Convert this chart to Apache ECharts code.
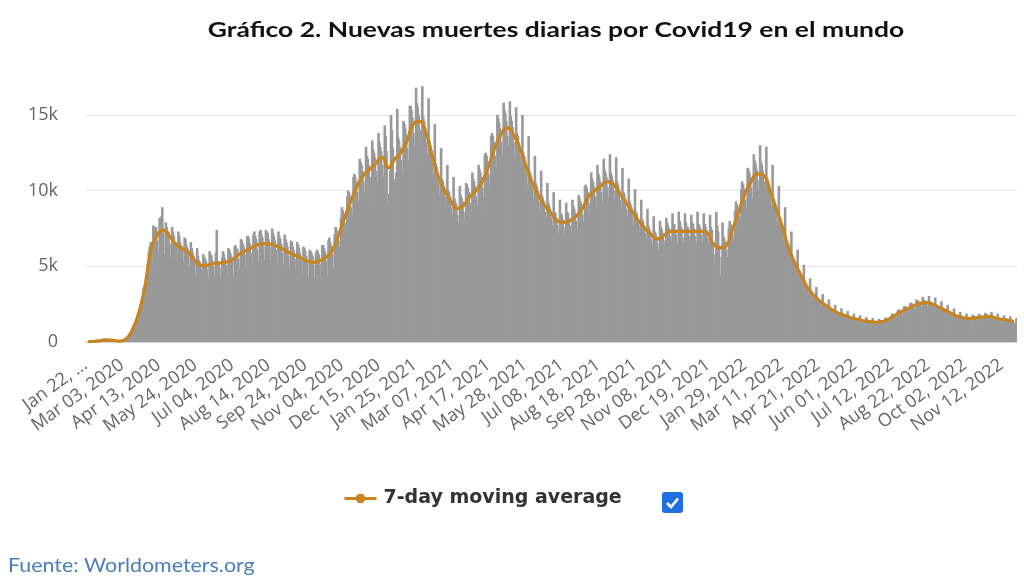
<!DOCTYPE html>
<html>
<head>
<meta charset="utf-8">
<script src="https://cdn.jsdelivr.net/npm/echarts@6/dist/echarts.min.js"></script>
<style>html,body{margin:0;padding:0;background:#fff}#c{width:1024px;height:576px}</style>
</head>
<body>
<div id="c"></div>
<script>
// Daily new deaths, one row per week (Wed..Tue), starting Wed Jan 22, 2020
const dailyDeaths = [
0,8,16,15,24,26,26,
38,43,46,45,57,64,66,
73,73,86,89,97,108,97,
254,121,143,142,105,98,136,
115,118,109,97,150,71,64,
38,57,64,70,55,72,84,
87,102,96,228,206,272,322,
420,480,520,700,850,1050,1200,
1300,1450,1750,1750,1800,2000,2500,
2700,3000,3600,3700,3400,3500,4500,
5200,6000,6300,6600,5100,4900,7700,
7500,7400,7600,6700,5900,5800,8200,
8000,8300,8900,7200,5800,5600,7900,
7600,7200,7300,6500,5200,5600,7600,
7300,7000,6600,6300,5300,5500,7300,
7000,6600,6400,6100,5000,5300,6900,
6800,6400,6200,5800,4800,5000,6600,
6200,5900,5700,5300,4200,4400,6200,
5700,5400,5300,4900,4000,4300,5800,
5600,5500,5300,4800,3900,4200,6000,
5800,5700,5400,5000,4100,4400,5900,
7400,5300,5200,4900,3900,4200,5600,
6000,5800,5500,5100,4000,4300,6200,
6100,5900,5700,5300,4200,4400,6300,
6400,6200,6100,5500,4500,4800,6800,
6700,6500,6300,5800,4600,4900,7000,
7000,6800,6500,5900,4900,5200,7100,
7300,7000,6800,6100,5000,5300,7300,
7400,7100,6900,6300,5000,5400,7400,
7300,7200,6800,6300,4900,5400,7500,
7200,7000,6700,6100,4900,5300,7300,
7000,6800,6500,5900,4700,5100,7100,
6800,6600,6300,5700,4500,4900,6700,
6600,6300,6100,5500,4400,4700,6600,
6400,6200,5900,5400,4200,4500,6300,
6200,6000,5700,5200,4000,4300,6100,
6000,5900,5700,5100,4000,4200,5900,
6100,6000,5800,5200,3900,4200,6400,
6400,6200,6000,5400,4000,4400,6700,
6900,6600,6400,5800,4300,4900,7100,
7600,7400,7200,6700,5600,6300,8200,
8900,8700,8400,7900,6600,7400,9600,
10000,9900,9600,8900,7400,8400,10900,
11100,10900,10600,9900,8200,9300,12100,
11900,11700,11300,10600,8800,9900,12900,
12300,12100,11700,10900,9100,10300,13300,
12700,12500,12200,11300,9400,10600,13800,
13200,12900,12600,11700,9800,11000,14300,
13600,12600,9000,9200,9800,11300,15000,
14000,12800,9800,10500,10800,11200,15400,
13500,13300,12900,12000,10000,11300,14600,
14400,14100,13700,12800,10600,12000,15600,
15600,15300,14800,13800,11500,13000,16800,
15800,15500,15000,14000,11700,13100,16900,
14900,14600,14200,13200,11000,12400,16100,
13300,13000,12700,11800,9800,11100,14400,
11800,11600,11200,10500,8700,9800,12800,
10800,10600,10300,9600,8000,9000,11700,
10000,9900,9600,8900,7400,8400,10900,
9500,9300,9100,8400,7000,7900,10300,
9700,9500,9300,8600,7200,8100,10500,
10400,10200,9900,9200,7700,8600,11200,
10800,10600,10300,9600,7400,9000,11700,
11400,11200,10900,10200,8500,9500,12400,
12500,12300,11900,11100,9300,10400,13600,
13800,13600,13200,12300,10200,11500,15000,
14800,14500,14100,13200,11000,12300,15800,
15300,15100,14600,13600,11600,13000,15900,
14900,14600,14200,13200,11000,12400,15500,
13800,13600,13200,12300,10200,11500,15000,
12500,12300,11900,11100,9300,10400,13600,
11300,11100,10800,10100,8400,9500,12300,
10500,10300,10000,9300,7800,8700,11300,
9700,9500,9300,8600,7200,8100,10500,
9200,9000,8800,8200,6800,7700,9900,
8600,8500,8200,7700,6400,7200,9400,
8500,8400,8100,7600,6300,7100,9200,
8600,8500,8200,7700,6400,7200,9400,
9000,8800,8500,8000,6600,7500,9700,
9500,9300,9100,8400,7000,7900,10300,
10400,10200,9900,9200,7700,8600,11200,
10800,10600,10300,9600,8000,9000,11700,
11100,10900,10600,9900,8200,9300,12100,
11400,11200,10900,10200,8500,9500,12400,
11200,11000,10700,10000,8300,9400,12200,
10600,10400,10100,9400,7800,8800,11500,
9900,9800,9500,8800,7400,8300,10800,
9300,9100,8900,8300,6900,7700,10100,
8600,8500,8200,7700,6400,7200,9400,
8100,8000,7700,7200,6000,6800,8800,
7700,7500,7300,6800,5700,6400,8300,
7300,7200,7000,6500,5400,6100,8000,
7600,7400,7200,6700,5600,6300,8200,
7900,7700,7500,7000,5800,6600,8500,
7800,7800,7400,7100,5900,6500,8600,
8000,7700,7500,6900,5800,6600,8500,
7900,6600,7600,7000,5700,6700,8400,
7900,7800,7500,7000,5800,6500,8600,
7800,7700,7500,7100,5900,6600,8500,
7800,7600,7400,6900,5800,6500,8400,
7600,7400,6500,4800,4600,5800,8600,
7700,7300,6400,4200,4400,5600,7900,
7000,6800,6600,6100,4900,5600,7500,
8000,7800,7600,7100,5900,6700,8700,
9300,9100,8900,8300,6900,7700,10100,
10600,10400,10100,9400,7800,8800,11500,
11400,11200,10900,10200,8500,9500,12400,
12000,11800,11400,10700,8900,10000,13000,
11900,11700,11300,10600,8800,9900,12900,
10800,10600,10300,9600,8000,9000,11700,
9500,9300,9100,8400,7000,7900,10300,
8200,8100,7800,7300,6100,6800,8900,
6700,6600,6400,6000,5000,5600,7300,
5600,5500,5400,5000,4200,4700,6100,
4800,4700,4500,4200,3500,4000,5100,
3900,3800,3700,3500,2900,3200,4200,
3350,3290,3190,2980,2480,2790,3630,
2920,2860,2780,2590,2160,2430,3160,
2590,2540,2470,2300,1920,2160,2810,
2270,2230,2160,2020,1680,1890,2460,
2050,2010,1960,1820,1520,1710,2220,
1890,1860,1800,1680,1400,1580,2050,
1730,1700,1650,1540,1280,1440,1870,
1620,1590,1550,1440,1200,1350,1760,
1510,1480,1440,1340,1120,1260,1640,
1460,1430,1390,1300,1080,1220,1580,
1400,1380,1340,1250,1040,1170,1520,
1460,1430,1390,1300,1080,1220,1580,
1620,1590,1550,1440,1200,1350,1760,
1890,1860,1800,1680,1400,1580,2050,
2160,2120,2060,1920,1600,1800,2340,
2380,2330,2270,2110,1760,1980,2570,
2590,2540,2470,2300,1920,2160,2810,
2750,2700,2630,2450,2040,2300,2980,
2810,2760,2680,2500,2080,2340,3040,
2700,2650,2580,2400,2000,2250,2930,
2480,2440,2370,2210,1840,2070,2690,
2270,2230,2160,2020,1680,1890,2460,
2050,2010,1960,1820,1520,1710,2220,
1840,1800,1750,1630,1360,1530,1990,
1730,1700,1650,1540,1280,1440,1870,
1670,1640,1600,1490,1240,1400,1810,
1730,1700,1650,1540,1280,1440,1870,
1780,1750,1700,1580,1320,1490,1930,
1840,1800,1750,1630,1360,1530,1990,
1730,1700,1650,1540,1280,1440,1870,
1620,1590,1550,1440,1200,1350,1760,
1570,1540,1490,1390,1160,1310,1700,
1460,1430,1390,1300,1080,1220,1580
];

// 7-day moving average, one value per week (read at the middle day, Saturday)
const movingAvgWeekly = [
16,51,89,143,103,63,188,746,1793,3486,
5971,7014,7386,7000,6471,6186,5943,5414,5057,5043,
5186,5214,5271,5414,5757,5971,6200,6400,6500,6486,
6357,6157,5929,5743,5557,5357,5257,5371,5586,6000,
7000,8200,9300,10300,11000,11400,11800,12200,11500,12070,
12510,13310,14400,14570,13800,12300,10900,10000,9300,8800,
9000,9600,10000,10600,11600,12800,13700,14160,13690,12800,
11600,10500,9700,9000,8500,8000,7900,8000,8300,8800,
9600,10000,10300,10600,10400,9800,9200,8600,8000,7500,
7100,6800,7000,7300,7300,7300,7300,7300,7300,7200,
6470,6210,6360,7400,8600,9800,10600,11100,11000,10000,
8800,7600,6200,5200,4400,3600,3100,2700,2400,2100,
1900,1750,1600,1500,1400,1350,1300,1350,1500,1750,
2000,2200,2400,2550,2600,2500,2300,2100,1900,1700,
1600,1550,1600,1650,1700,1600,1500,1450,1350
];

const tickLabels = [
'Jan 22, ...','Mar 03, 2020','Apr 13, 2020','May 24, 2020','Jul 04, 2020','Aug 14, 2020',
'Sep 24, 2020','Nov 04, 2020','Dec 15, 2020','Jan 25, 2021','Mar 07, 2021','Apr 17, 2021',
'May 28, 2021','Jul 08, 2021','Aug 18, 2021','Sep 28, 2021','Nov 08, 2021','Dec 19, 2021',
'Jan 29, 2022','Mar 11, 2022','Apr 21, 2022','Jun 01, 2022','Jul 12, 2022','Aug 22, 2022',
'Oct 02, 2022','Nov 12, 2022'
];
const yTicks = [0, 5000, 10000, 15000];
const TICK_STEP = 41;

// categories: one per day from Jan 22, 2020
const MONTHS = ['Jan','Feb','Mar','Apr','May','Jun','Jul','Aug','Sep','Oct','Nov','Dec'];
const categories = dailyDeaths.map((_, i) => {
  const d = new Date(Date.UTC(2020, 0, 22 + i));
  return MONTHS[d.getUTCMonth()] + ' ' + String(d.getUTCDate()).padStart(2, '0') + ', ' + d.getUTCFullYear();
});
// moving average placed on the middle day of each week
const maSeries = dailyDeaths.map(() => null);
movingAvgWeekly.forEach((v, w) => { const idx = w * 7 + 3; if (idx < maSeries.length) maSeries[idx] = v; });

const LINE_COLOR = '#c8841f';
const chart = echarts.init(document.getElementById('c'), null, {renderer: 'canvas'});
chart.setOption({
  animation: false,
  backgroundColor: '#ffffff',
  grid: {left: 85, right: 7, top: 77, bottom: 234},
  legend: {
    data: ['7-day moving average'],
    left: 343, top: 489,
    padding: 0,
    itemWidth: 32, itemHeight: 12,
    lineStyle: {width: 3},
    textStyle: {fontFamily: 'DejaVu Sans', fontWeight: 'bold', fontSize: 19, color: '#333333', padding: [0, 0, 0, 2]}
  },
  xAxis: {
    type: 'category',
    data: categories,
    boundaryGap: true,
    axisLine: {show: true, lineStyle: {color: '#ccd6eb'}},
    axisTick: {show: false},
    axisLabel: {
      interval: TICK_STEP - 1,
      rotate: 36,
      margin: 21,
      color: '#666666',
      fontFamily: 'Open Sans',
      fontSize: 18,
      formatter: (v, i) => (i % TICK_STEP === 0 ? tickLabels[i / TICK_STEP] : '')
    }
  },
  yAxis: {
    type: 'value',
    min: yTicks[0], max: 17500, interval: yTicks[1] - yTicks[0],
    axisLine: {show: false},
    axisTick: {show: false},
    splitLine: {show: true, showMaxLine: false, lineStyle: {color: '#e6e6e6'}},
    axisLabel: {
      showMaxLabel: false,
      margin: 27,
      color: '#666666',
      fontFamily: 'Open Sans',
      fontSize: 18,
      formatter: v => (v === 0 ? '0' : (v / 1000) + 'k')
    }
  },
  series: [
    {
      name: 'Daily Deaths',
      type: 'bar',
      data: dailyDeaths,
      barWidth: 2.6,
      barGap: '-100%',
      itemStyle: {color: '#999999'},
      z: 1
    },
    {
      name: '7-day moving average',
      type: 'line',
      data: maSeries,
      connectNulls: true,
      smooth: true,
      symbol: 'circle',
      symbolSize: 10,
      showSymbol: false,
      lineStyle: {color: LINE_COLOR, width: 3.2},
      itemStyle: {color: LINE_COLOR},
      z: 3
    }
  ],
  graphic: [
    {type: 'text', x: 556, y: 30, scaleX: 1.26, style: {text: 'Gráfico 2. Nuevas muertes diarias por Covid19 en el mundo', x: 0, y: 0, align: 'center', verticalAlign: 'middle', font: 'bold 21px Lato', fill: '#111111'}},
    {type: 'text', x: 8, y: 566, scaleX: 1.07, style: {text: 'Fuente: Worldometers.org', x: 0, y: 0, align: 'left', verticalAlign: 'middle', font: '20px Lato', fill: '#4a7ebb'}},
    {type: 'group', x: 662, y: 492, children: [
      {type: 'rect', shape: {x: 0, y: 0, width: 21, height: 21, r: 3}, style: {fill: '#1f6fe0'}},
      {type: 'polyline', shape: {points: [[5, 11], [9, 15], [16, 6.5]]}, style: {stroke: '#ffffff', lineWidth: 2.6, fill: null}}
    ]}
  ]
});
</script>
</body>
</html>
